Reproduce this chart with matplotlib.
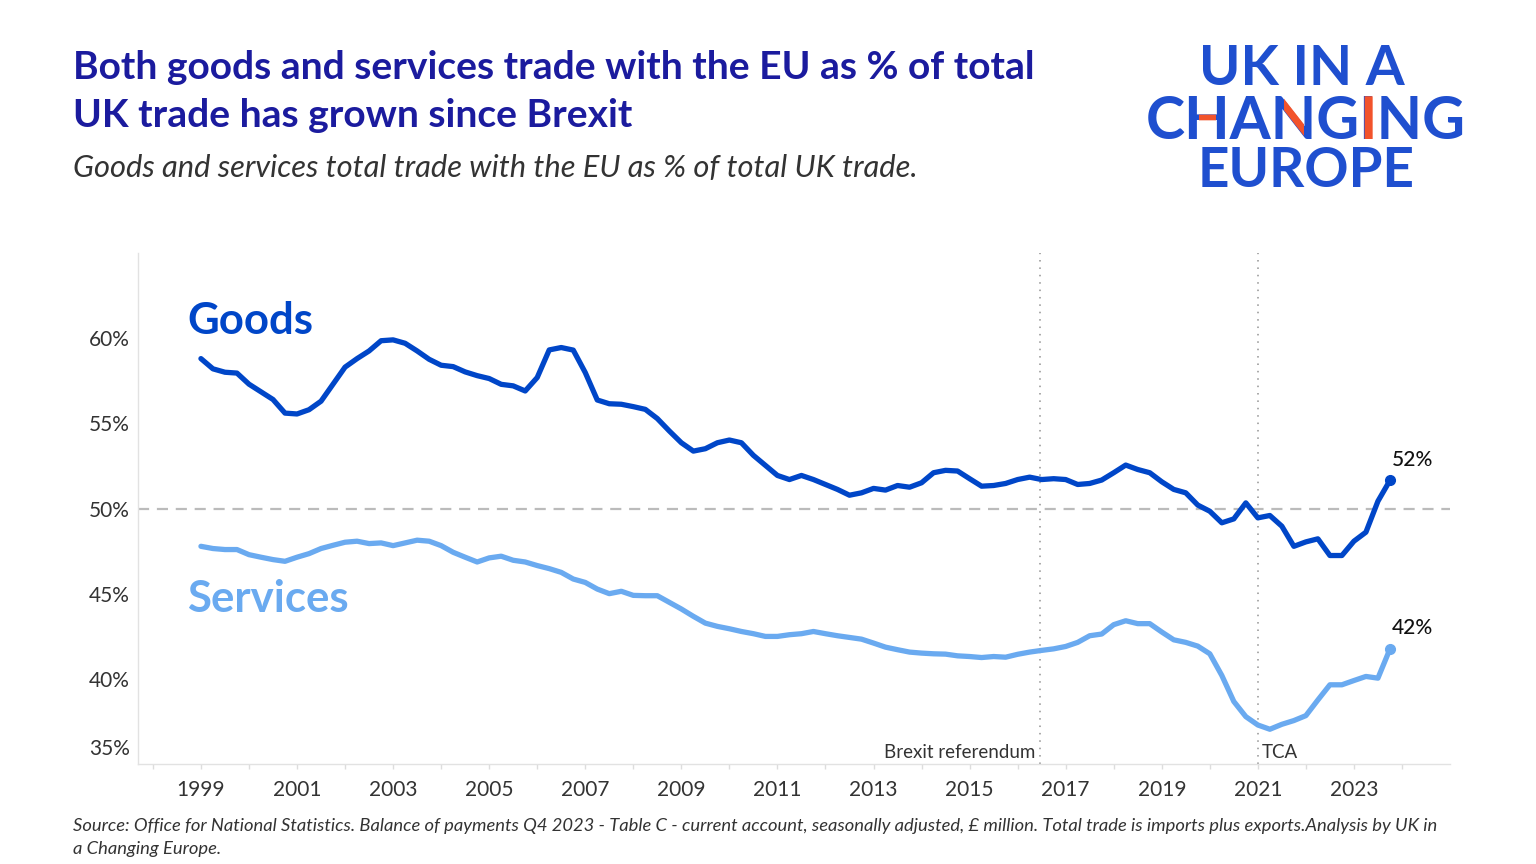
import matplotlib
matplotlib.use('Agg')
import matplotlib.pyplot as plt
from matplotlib.font_manager import FontProperties
from matplotlib.textpath import TextPath
from matplotlib.patches import Rectangle
from matplotlib.transforms import Affine2D

plt.rcParams['font.family'] = ['Lato', 'DejaVu Sans']

# quarterly data, 1999 Q1 - 2023 Q4 (% of total UK trade that is with the EU)
years = list(range(1999, 2024))
quarters = [y + q / 4 for y in years for q in range(4)]

goods = [58.8, 58.2, 58.0, 57.95, 57.3, 56.85, 56.4, 55.6, 55.55, 55.8, 56.3, 57.3,
         58.3, 58.8, 59.25, 59.85, 59.9, 59.7, 59.25, 58.76, 58.41, 58.33, 58.02, 57.8,
         57.63, 57.29, 57.2, 56.9, 57.69, 59.31, 59.45, 59.3, 57.98, 56.37, 56.15, 56.12,
         55.98, 55.82, 55.28, 54.55, 53.86, 53.37, 53.51, 53.86, 54.02, 53.86, 53.12, 52.53,
         51.94, 51.7, 51.94, 51.7, 51.41, 51.12, 50.78, 50.92, 51.18, 51.08, 51.35, 51.25,
         51.51, 52.1, 52.24, 52.2, 51.75, 51.31, 51.35, 51.47, 51.7, 51.84, 51.7, 51.75,
         51.7, 51.41, 51.47, 51.67, 52.1, 52.55, 52.29, 52.1, 51.57, 51.12, 50.92, 50.2,
         49.84, 49.16, 49.39, 50.33, 49.45, 49.59, 48.96, 47.78, 48.04, 48.22, 47.24, 47.24,
         48.08, 48.61, 50.43, 51.65]

services = [47.78, 47.65, 47.59, 47.59, 47.29, 47.14, 47.0, 46.9, 47.14, 47.35, 47.65, 47.84,
            48.02, 48.08, 47.94, 47.98, 47.82, 47.98, 48.14, 48.08, 47.82, 47.43, 47.14, 46.86,
            47.1, 47.2, 46.96, 46.86, 46.65, 46.47, 46.25, 45.86, 45.66, 45.27, 45.0, 45.14,
            44.9, 44.88, 44.88, 44.49, 44.1, 43.67, 43.27, 43.08, 42.94, 42.78, 42.65, 42.49,
            42.49, 42.59, 42.65, 42.78, 42.65, 42.53, 42.43, 42.33, 42.1, 41.86, 41.71, 41.57,
            41.51, 41.47, 41.45, 41.35, 41.31, 41.25, 41.31, 41.27, 41.44, 41.57, 41.67, 41.76,
            41.9, 42.14, 42.53, 42.63, 43.18, 43.41, 43.24, 43.24, 42.75, 42.29, 42.14, 41.92,
            41.47, 40.2, 38.67, 37.78, 37.29, 37.04, 37.33, 37.55, 37.84, 38.76, 39.65, 39.65,
            39.9, 40.14, 40.04, 41.75]

tick_years = list(range(1998, 2025))
label_years = list(range(1999, 2024, 2))
yticks = [40, 45, 50, 55, 60]
event_x = [2016.46, 2021.0]
event_names = ['Brexit referendum', 'TCA']

GOODS = '#0046c8'
SERV = '#6aaaf0'
TITLE = '#1b1b9e'
LOGO = '#1f4fcf'
RED = '#f2532b'
TXT = '#333333'

fig = plt.figure(figsize=(15.36, 8.64), dpi=100)
W, H = 1536, 864
ax = fig.add_axes([138 / W, 1 - 764 / H, 1312 / W, 511 / H])

ax.axhline(50, color='#bbbbbb', lw=1.6, dashes=(5, 3.5), zorder=1)
for ex in event_x:
    ax.axvline(ex, color='#aaaaaa', lw=1.4, dashes=(0.8, 3), zorder=1)
ax.text(event_x[0] - 0.1, 35.7, event_names[0], ha='right', va='center', fontsize=13.5, color=TXT)
ax.text(event_x[1] + 0.08, 35.7, event_names[1], ha='left', va='center', fontsize=13.5, color=TXT)

ax.plot(quarters, services, color=SERV, lw=3.8, solid_joinstyle='round', solid_capstyle='round', zorder=3)
ax.plot(quarters, goods, color=GOODS, lw=3.8, solid_joinstyle='round', solid_capstyle='round', zorder=4)
ax.plot(quarters[-1], goods[-1], 'o', ms=7, color=GOODS, zorder=5)
ax.plot(quarters[-1], services[-1], 'o', ms=7, color=SERV, zorder=5)
for v in (goods[-1], services[-1]):
    ax.annotate(f'{round(v)}%', xy=(quarters[-1], v), xytext=(16, 15), textcoords='offset points',
                ha='center', va='center', fontsize=15, color='#111111', fontweight='medium')

ax.text(1998.71, 60.24, 'Goods', fontsize=31.5, fontweight='bold', color=GOODS, va='baseline')
ax.text(1998.71, 43.94, 'Services', fontsize=31.5, fontweight='bold', color=SERV, va='baseline')

ax.set_xlim(1997.69, 2025.0)
ax.set_ylim(35, 65)
ax.set_xticks(tick_years)
ax.set_xticklabels([str(y) if y in label_years else '' for y in tick_years])
ax.set_yticks(yticks)
ax.set_yticklabels([f'{v}%' for v in yticks])
ax.annotate('35%', xy=(0, 35), xycoords=('axes fraction', 'data'), xytext=(-6, 11),
            textcoords='offset points', ha='right', va='center', fontsize=15, color=TXT)
ax.tick_params(axis='x', length=3.6, width=1, color='#dddddd', labelsize=15, labelcolor=TXT, pad=8)
ax.tick_params(axis='y', length=0, labelsize=15, labelcolor=TXT, pad=6)
for s in ('top', 'right'):
    ax.spines[s].set_visible(False)
for s in ('left', 'bottom'):
    ax.spines[s].set_color('#e2e2e2')
    ax.spines[s].set_linewidth(1)

# titles
fig.text(73 / W, 1 - 79 / H, 'Both goods and services trade with the EU as % of total',
         fontsize=28.1, fontweight='bold', color=TITLE, va='baseline')
fig.text(73 / W, 1 - 127 / H, 'UK trade has grown since Brexit',
         fontsize=28.1, fontweight='bold', color=TITLE, va='baseline')
fig.text(73 / W, 1 - 177 / H, 'Goods and services total trade with the EU as % of total UK trade.',
         fontsize=22.2, fontstyle='italic', fontweight='normal', color=TXT, va='baseline')

fig.text(73 / W, 1 - 831 / H,
         'Source: Office for National Statistics. Balance of payments Q4 2023 - Table C - current account, '
         'seasonally adjusted, £ million. Total trade is imports plus exports.Analysis by UK in',
         fontsize=13.25, fontstyle='italic', color=TXT, va='baseline')
fig.text(73 / W, 1 - 854 / H, 'a Changing Europe.', fontsize=13.25, fontstyle='italic', color=TXT, va='baseline')

# logo
lax = fig.add_axes([0, 0, 1, 1], zorder=10)
lax.set_xlim(0, W)
lax.set_ylim(H, 0)
lax.axis('off')
fp = FontProperties(family='Lato', weight='bold')


def ext(s):
    return TextPath((0, 0), s, size=1, prop=fp).get_extents()


def logo_line(word, left, right, base):
    e = ext(word)
    k = (right - left) / e.width
    x0 = left - e.x0 * k
    lax.text(x0, base, word, fontproperties=fp, fontsize=k * 72 / 100, color=LOGO,
             ha='left', va='baseline')
    return k, x0


logo_line('UK IN A', 1203, 1405, 85)
k, x0 = logo_line('CHANGING', 1148, 1463, 139)
logo_line('EUROPE', 1202, 1413, 187)

word_path = TextPath((0, 0), 'CHANGING', size=1, prop=fp)
clip_tr = Affine2D().scale(k, -k).translate(x0, 139) + lax.transData
cap = ext('H').height * k
for prefix, letter, frac in (('CH', 'H', 0.27), ('CHAN', 'N', 0.22), ('CHANGI', 'I', -0.2)):
    r = x0 + ext(prefix).x1 * k
    w = ext(letter).width * k
    l = r - w
    rect = Rectangle((l + frac * w, 139 - cap - 3), w * (1 - 2 * frac), cap + 6,
                     color=RED, lw=0, zorder=11)
    lax.add_patch(rect)
    rect.set_clip_path(word_path, clip_tr)

fig.savefig('out.png', dpi=100)
